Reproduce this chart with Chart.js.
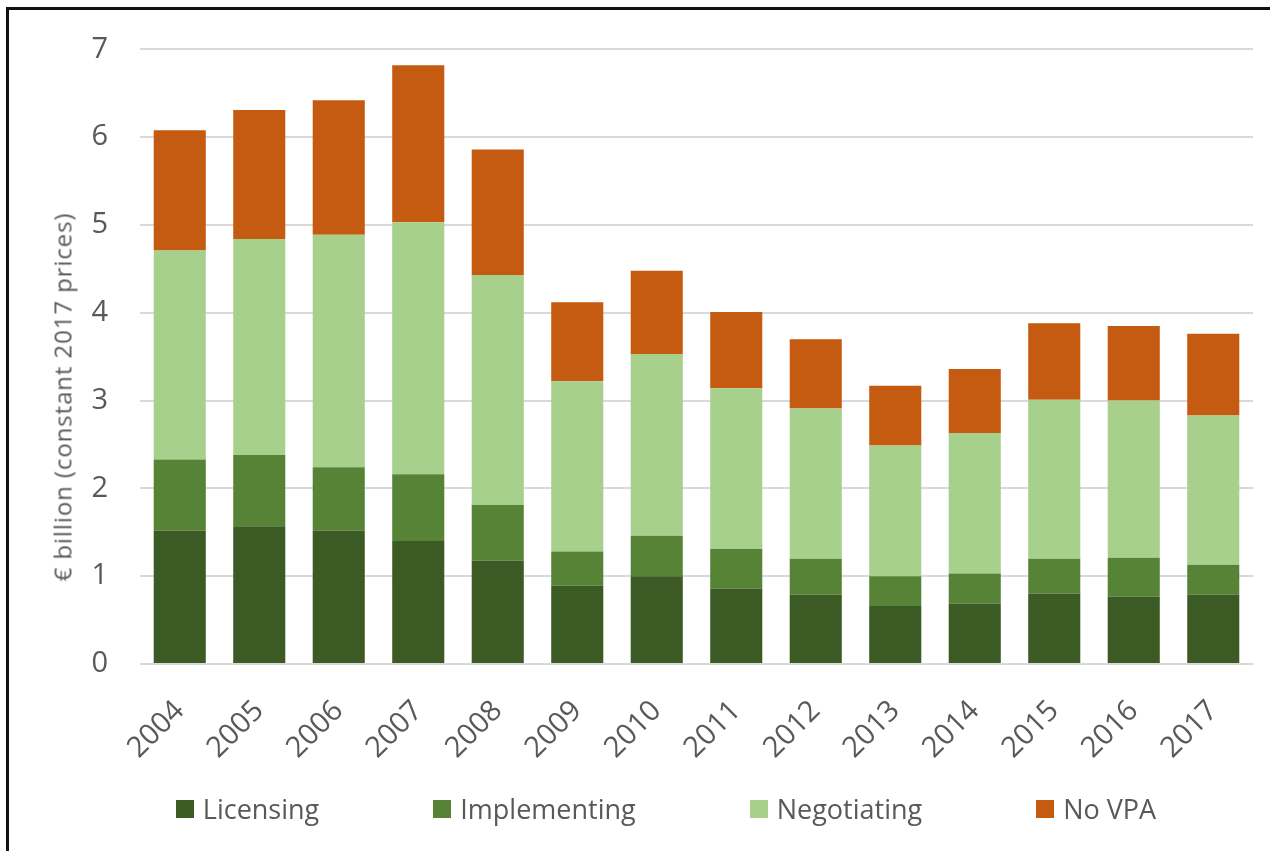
<!DOCTYPE html>
<html>
<head>
<meta charset="utf-8">
<script src="https://cdn.jsdelivr.net/npm/chart.js@4"></script>
<style>
  html, body { margin: 0; padding: 0; background: #fff; overflow: hidden; }
  body { width: 1270px; height: 851px; position: relative; font-family: "Open Sans", sans-serif; color: #595959; }
  /* the source is a cropped screenshot: only its top and left frame edges show */
  .frame { position: absolute; left: 6px; top: 7px; width: 1400px; height: 1000px; border: 3px solid #111; box-sizing: border-box; }
  .wrap { position: absolute; left: 0; top: 0; width: 1270px; height: 851px; }
  .ytitle { position: absolute; left: 62px; top: 397px; transform: translate(-50%, -50%) rotate(-90deg);
            white-space: nowrap; font-size: 24px; letter-spacing: 0.9px; }
  .legend { position: absolute; left: 0; width: 1332px; top: 791px; display: flex; justify-content: center; gap: 114px; font-size: 27px; line-height: 36px; }
  .legend span { display: inline-flex; align-items: center; }
  .legend i { display: inline-block; width: 18px; height: 18px; margin-right: 9px; }
</style>
</head>
<body>
<div class="frame"></div>
<div class="wrap"><canvas id="chart"></canvas></div>
<div class="ytitle">€ billion (constant 2017 prices)</div>
<div class="legend" id="legend"></div>
<script>
// Values, € billion per year, stacked bottom-up.
const years = ["2004", "2005", "2006", "2007", "2008", "2009", "2010",
  "2011", "2012", "2013", "2014", "2015", "2016", "2017"];
const licensing    = [1.52, 1.57, 1.52, 1.40, 1.18, 0.89, 1.00, 0.86, 0.79, 0.66, 0.69, 0.80, 0.77, 0.79];
const implementing = [0.81, 0.81, 0.72, 0.76, 0.63, 0.39, 0.46, 0.45, 0.41, 0.34, 0.34, 0.40, 0.44, 0.34];
const negotiating  = [2.38, 2.46, 2.65, 2.87, 2.62, 1.94, 2.07, 1.83, 1.71, 1.49, 1.60, 1.81, 1.79, 1.70];
const noVpa        = [1.37, 1.47, 1.53, 1.79, 1.43, 0.90, 0.95, 0.87, 0.79, 0.68, 0.73, 0.87, 0.85, 0.93];

const series = [
  ["Licensing", licensing, "#3b5a24"],
  ["Implementing", implementing, "#568336"],
  ["Negotiating", negotiating, "#a7d08c"],
  ["No VPA", noVpa, "#c55a11"],
];

const tickColor = "#595959";

new Chart(document.getElementById("chart"), {
  type: "bar",
  data: {
    labels: years,
    datasets: series.map(([label, data, color]) => ({
      label, data, backgroundColor: color, borderWidth: 0,
      barPercentage: 1, categoryPercentage: 0.655,
    })),
  },
  options: {
    responsive: true,
    maintainAspectRatio: false,
    animation: false,
    layout: { padding: { top: 45, right: 17, left: 0, bottom: 0 } },
    plugins: { legend: { display: false }, tooltip: { enabled: false } },
    scales: {
      x: {
        stacked: true,
        grid: { display: false },
        border: { display: false },
        ticks: { color: tickColor, font: { family: "Open Sans", size: 29 }, minRotation: 45, maxRotation: 45, padding: 22 },
        // fixed height so the plot bottom lands where the reference has it
        afterFit: (s) => { s.height = 187; },
      },
      y: {
        stacked: true,
        min: 0, max: 7,
        grid: { color: "#d9d9d9", lineWidth: 2, drawTicks: false },
        border: { display: false },
        ticks: { stepSize: 1, color: tickColor, font: { family: "Open Sans", size: 29 }, padding: 32 },
        afterFit: (s) => { s.width = 140; },
      },
    },
  },
});

// HTML legend: the reference spaces its items far wider than Chart.js allows
// without also inflating the legend's height.
document.getElementById("legend").innerHTML = series
  .map(([label, , color]) => `<span><i style="background:${color}"></i>${label}</span>`)
  .join("");
</script>
</body>
</html>
